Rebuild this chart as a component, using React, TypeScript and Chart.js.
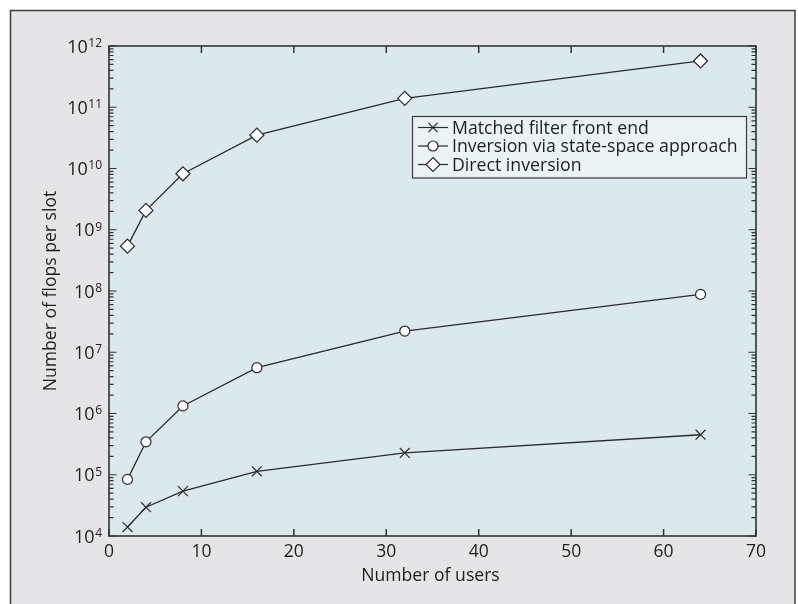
import React, { useEffect, useRef } from 'react';
import { Chart, registerables } from 'chart.js';

Chart.register(...registerables);

// ---- data ----
const users = [2, 4, 8, 16, 32, 64];
const matchedFilter = [1.4e4, 2.95e4, 5.4e4, 1.14e5, 2.27e5, 4.5e5];
const stateSpace = [8.4e4, 3.45e5, 1.33e6, 5.6e6, 2.22e7, 8.8e7];
const directInversion = [5.4e8, 2.07e9, 8.2e9, 3.5e10, 1.4e11, 5.7e11];
const seriesLabels = [
  'Matched filter front end',
  'Inversion via state-space approach',
  'Direct inversion',
];
const seriesMarkers = ['crossRot', 'circle', 'rectRot'];
const xTicks = [0, 10, 20, 30, 40, 50, 60, 70];
const yExponents = [4, 5, 6, 7, 8, 9, 10, 11, 12];
const xTitle = 'Number of users';
const yTitle = 'Number of flops per slot';

const FONT = '"Open Sans", "Noto Sans", sans-serif';
const INK = '#2b2b2b';
const AXIS = '#333333';

function drawMarker(ctx: CanvasRenderingContext2D, style: string, x: number, y: number) {
  ctx.save();
  ctx.strokeStyle = INK;
  ctx.fillStyle = '#ffffff';
  ctx.lineWidth = 1.2;
  ctx.beginPath();
  if (style === 'crossRot') {
    const d = 4.6;
    ctx.moveTo(x - d, y - d);
    ctx.lineTo(x + d, y + d);
    ctx.moveTo(x - d, y + d);
    ctx.lineTo(x + d, y - d);
    ctx.stroke();
  } else if (style === 'circle') {
    ctx.arc(x, y, 5, 0, Math.PI * 2);
    ctx.fill();
    ctx.stroke();
  } else {
    const r = 7;
    ctx.moveTo(x, y - r);
    ctx.lineTo(x + r, y);
    ctx.lineTo(x, y + r);
    ctx.lineTo(x - r, y);
    ctx.closePath();
    ctx.fill();
    ctx.stroke();
  }
  ctx.restore();
}

const framePlugin = {
  id: 'frameAndAxes',
  beforeDraw(chart: any) {
    const ctx: CanvasRenderingContext2D = chart.ctx;
    const a = chart.chartArea;
    ctx.save();
    ctx.fillStyle = '#ffffff';
    ctx.fillRect(0, 0, chart.width, chart.height);
    ctx.fillStyle = '#e5e5e7';
    ctx.fillRect(10, 10, 785, chart.height);
    ctx.strokeStyle = '#3c3c3c';
    ctx.lineWidth = 1.5;
    ctx.strokeRect(10.5, 10.5, 784.5, chart.height + 20);
    ctx.fillStyle = '#dbe9ec';
    ctx.fillRect(a.left, a.top, a.right - a.left, a.bottom - a.top);
    ctx.restore();
  },
  afterDraw(chart: any) {
    const ctx: CanvasRenderingContext2D = chart.ctx;
    const a = chart.chartArea;
    const xs = chart.scales.x;
    const ys = chart.scales.y;
    ctx.save();
    ctx.strokeStyle = AXIS;
    ctx.lineWidth = 1.5;
    // ticks
    ctx.beginPath();
    xTicks.forEach((v) => {
      const px = xs.getPixelForValue(v);
      ctx.moveTo(px, a.bottom);
      ctx.lineTo(px, a.bottom - 7);
      ctx.moveTo(px, a.top);
      ctx.lineTo(px, a.top + 7);
    });
    ctx.stroke();
    ctx.lineWidth = 1.2;
    ctx.beginPath();
    yExponents.forEach((e) => {
      const py = ys.getPixelForValue(Math.pow(10, e));
      ctx.moveTo(a.left, py);
      ctx.lineTo(a.left + 7.5, py);
      ctx.moveTo(a.right, py);
      ctx.lineTo(a.right - 7.5, py);
      if (e < yExponents[yExponents.length - 1]) {
        for (let m = 2; m <= 9; m++) {
          const pm = ys.getPixelForValue(m * Math.pow(10, e));
          ctx.moveTo(a.left, pm);
          ctx.lineTo(a.left + 4.5, pm);
          ctx.moveTo(a.right, pm);
          ctx.lineTo(a.right - 4.5, pm);
        }
      }
    });
    ctx.stroke();
    // axis box
    ctx.lineWidth = 1.6;
    ctx.strokeRect(a.left, a.top, a.right - a.left, a.bottom - a.top);

    // tick labels
    ctx.fillStyle = '#1e1e1e';
    ctx.font = `17.5px ${FONT}`;
    ctx.textAlign = 'center';
    ctx.textBaseline = 'alphabetic';
    xTicks.forEach((v) => {
      ctx.fillText(String(v), xs.getPixelForValue(v), a.bottom + 20.5);
    });
    yExponents.forEach((e) => {
      const py = ys.getPixelForValue(Math.pow(10, e));
      const sup = String(e);
      ctx.font = `12px ${FONT}`;
      const supW = ctx.measureText(sup).width;
      const right = a.left - 7;
      ctx.textAlign = 'right';
      ctx.fillText(sup, right, py + 0.8);
      ctx.font = `18px ${FONT}`;
      ctx.fillText('10', right - supW - 0.5, py + 6.5);
    });

    // axis titles
    ctx.font = `17.6px ${FONT}`;
    ctx.textAlign = 'center';
    ctx.fillText(xTitle, (a.left + a.right) / 2 - 2, a.bottom + 45);
    ctx.save();
    ctx.translate(56, (a.top + a.bottom) / 2);
    ctx.rotate(-Math.PI / 2);
    ctx.fillText(yTitle, 0, 0);
    ctx.restore();

    // legend
    const lx = 412, ly = 116, lw = 334, lh = 61.5;
    ctx.fillStyle = '#ebf3f5';
    ctx.fillRect(lx, ly, lw, lh);
    ctx.strokeStyle = '#3a3a3a';
    ctx.lineWidth = 1.2;
    ctx.strokeRect(lx + 0.5, ly + 0.5, lw, lh);
    ctx.font = `17.7px ${FONT}`;
    ctx.textAlign = 'left';
    ctx.textBaseline = 'middle';
    seriesLabels.forEach((label, i) => {
      const cy = 127.5 + i * 18.5;
      ctx.strokeStyle = INK;
      ctx.lineWidth = 1.2;
      ctx.beginPath();
      ctx.moveTo(418, cy);
      ctx.lineTo(448, cy);
      ctx.stroke();
      drawMarker(ctx, seriesMarkers[i], 433, cy);
      ctx.fillStyle = '#1e1e1e';
      ctx.fillText(label, 452, cy + 1);
    });
    ctx.restore();
  },
};

export default function App() {
  const ref = useRef<HTMLCanvasElement | null>(null);
  useEffect(() => {
    if (!ref.current) return;
    const mk = (vals: number[]) => users.map((u, i) => ({ x: u, y: vals[i] }));
    const ds = (vals: number[], style: string, radius: number) => ({
      data: mk(vals),
      borderColor: INK,
      borderWidth: 1.3,
      pointStyle: style,
      pointRadius: radius,
      pointBackgroundColor: '#ffffff',
      pointBorderColor: INK,
      pointBorderWidth: 1.2,
      fill: false,
      tension: 0,
    });
    const chart = new Chart(ref.current, {
      type: 'line',
      data: {
        datasets: [
          { label: seriesLabels[0], ...ds(matchedFilter, 'crossRot', 7) },
          { label: seriesLabels[1], ...ds(stateSpace, 'circle', 5) },
          { label: seriesLabels[2], ...ds(directInversion, 'rectRot', 7) },
        ] as any,
      },
      options: {
        responsive: false,
        animation: false,
        devicePixelRatio: 1,
        layout: { padding: { left: 109, top: 46, right: 42, bottom: 68 } },
        scales: {
          x: { type: 'linear', min: 0, max: 70, display: false },
          y: { type: 'logarithmic', min: 1e4, max: 1e12, display: false },
        },
        plugins: { legend: { display: false }, tooltip: { enabled: false } },
      },
      plugins: [framePlugin],
    });
    return () => chart.destroy();
  }, []);
  return (
    <div style={{ position: 'absolute', left: 0, top: 0, width: 798, height: 604 }}>
      <canvas ref={ref} width={798} height={604} style={{ width: 798, height: 604, display: 'block' }} />
    </div>
  );
}
